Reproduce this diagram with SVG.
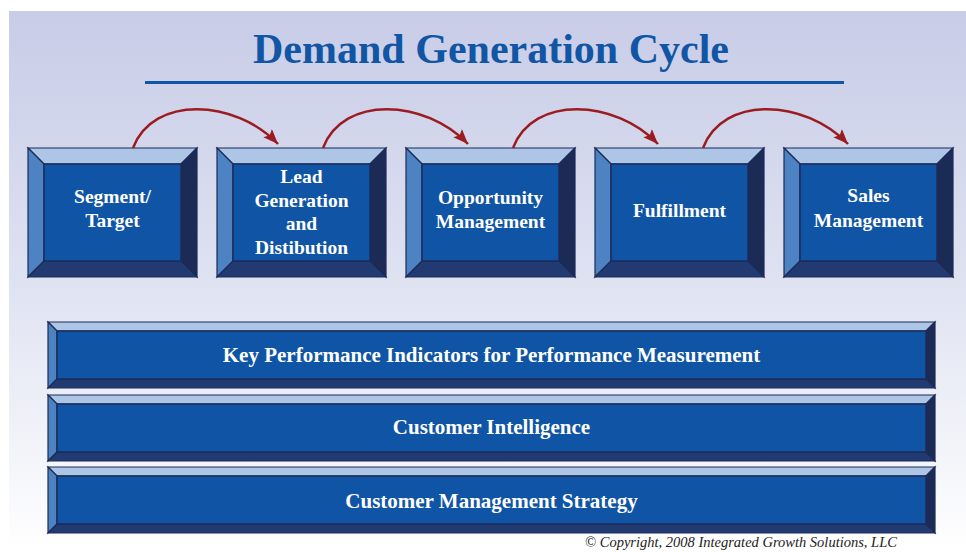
<svg xmlns="http://www.w3.org/2000/svg" width="966" height="552" viewBox="0 0 966 552">
<defs>
<linearGradient id="bg" x1="0" y1="0" x2="0" y2="1">
<stop offset="0" stop-color="#c8cce7"/>
<stop offset="0.5" stop-color="#dfe2f1"/>
<stop offset="1" stop-color="#ffffff"/>
</linearGradient>
<marker id="ah" markerUnits="userSpaceOnUse" markerWidth="16" markerHeight="12" refX="15" refY="6" orient="auto">
<path d="M0,0 L15,6 L0,12 L3,6 z" fill="#9b1c20"/>
</marker>
<style>
.top{fill:#adc6e6;stroke:#1c2b58;stroke-width:1.2}
.left{fill:#4d83c3;stroke:#1c2b58;stroke-width:1.2}
.right{fill:#1c2a56;stroke:#1c2b58;stroke-width:1.2}
.bot{fill:#213a72;stroke:#1c2b58;stroke-width:1.2}
.face{fill:#1054a5;stroke:#1c2b58;stroke-width:1.5}
.lbl{font-family:"Liberation Serif","Times New Roman",serif;font-weight:bold;fill:#ffffff;text-anchor:middle;font-size:19.5px}
.bar{font-size:21px}
.arc{fill:none;stroke:#9b1c20;stroke-width:2.5;marker-end:url(#ah)}
</style>
</defs>
<rect x="0" y="0" width="966" height="552" fill="#ffffff"/>
<rect x="9" y="11" width="957" height="541" fill="url(#bg)"/>

<g id="title">
<text x="491" y="63" font-family="Liberation Serif,'Times New Roman',serif" font-weight="bold" font-size="42" fill="#1155a5" text-anchor="middle">Demand Generation Cycle</text>
<rect x="145" y="81" width="699" height="3" fill="#1155a5"/>
</g>

<g id="n1" transform="translate(28,148)">
<polygon class="top" points="0,0 169,0 153,16 16,16"/>
<polygon class="left" points="0,0 16,16 16,113 0,129"/>
<polygon class="right" points="169,0 169,129 153,113 153,16"/>
<polygon class="bot" points="0,129 16,113 153,113 169,129"/>
<rect class="face" x="16" y="16" width="137" height="97"/>
<text class="lbl" x="84.5" y="55">Segment/</text>
<text class="lbl" x="84.5" y="79">Target</text>
</g>

<g id="n2" transform="translate(217,148)">
<polygon class="top" points="0,0 169,0 153,16 16,16"/>
<polygon class="left" points="0,0 16,16 16,113 0,129"/>
<polygon class="right" points="169,0 169,129 153,113 153,16"/>
<polygon class="bot" points="0,129 16,113 153,113 169,129"/>
<rect class="face" x="16" y="16" width="137" height="97"/>
<text class="lbl" x="84.5" y="35">Lead</text>
<text class="lbl" x="84.5" y="59">Generation</text>
<text class="lbl" x="84.5" y="82">and</text>
<text class="lbl" x="84.5" y="106">Distibution</text>
</g>

<g id="n3" transform="translate(406,148)">
<polygon class="top" points="0,0 169,0 153,16 16,16"/>
<polygon class="left" points="0,0 16,16 16,113 0,129"/>
<polygon class="right" points="169,0 169,129 153,113 153,16"/>
<polygon class="bot" points="0,129 16,113 153,113 169,129"/>
<rect class="face" x="16" y="16" width="137" height="97"/>
<text class="lbl" x="84.5" y="56">Opportunity</text>
<text class="lbl" x="84.5" y="80">Management</text>
</g>

<g id="n4" transform="translate(595,148)">
<polygon class="top" points="0,0 169,0 153,16 16,16"/>
<polygon class="left" points="0,0 16,16 16,113 0,129"/>
<polygon class="right" points="169,0 169,129 153,113 153,16"/>
<polygon class="bot" points="0,129 16,113 153,113 169,129"/>
<rect class="face" x="16" y="16" width="137" height="97"/>
<text class="lbl" x="84.5" y="69">Fulfillment</text>
</g>

<g id="n5" transform="translate(784,148)">
<polygon class="top" points="0,0 169,0 153,16 16,16"/>
<polygon class="left" points="0,0 16,16 16,113 0,129"/>
<polygon class="right" points="169,0 169,129 153,113 153,16"/>
<polygon class="bot" points="0,129 16,113 153,113 169,129"/>
<rect class="face" x="16" y="16" width="137" height="97"/>
<text class="lbl" x="84.5" y="54">Sales</text>
<text class="lbl" x="84.5" y="79">Management</text>
</g>

<g id="connectors">
<path class="arc" d="M133,148 C153,95 235,99 278,144"/>
<path class="arc" d="M323,148 C343,95 425,99 468,144"/>
<path class="arc" d="M513,148 C533,95 615,99 658,144"/>
<path class="arc" d="M703,148 C723,95 805,99 848,144"/>
</g>

<g id="bar1" transform="translate(48,322)">
<polygon class="top" points="0,0 887,0 878,9 9,9"/>
<polygon class="left" points="0,0 9,9 9,57 0,66"/>
<polygon class="right" points="887,0 887,66 878,57 878,9"/>
<polygon class="bot" points="0,66 9,57 878,57 887,66"/>
<rect class="face" x="9" y="9" width="869" height="48"/>
<text class="lbl bar" x="443.5" y="40">Key Performance Indicators for Performance Measurement</text>
</g>

<g id="bar2" transform="translate(48,395)">
<polygon class="top" points="0,0 887,0 878,9 9,9"/>
<polygon class="left" points="0,0 9,9 9,57 0,66"/>
<polygon class="right" points="887,0 887,66 878,57 878,9"/>
<polygon class="bot" points="0,66 9,57 878,57 887,66"/>
<rect class="face" x="9" y="9" width="869" height="48"/>
<text class="lbl bar" x="443.5" y="39">Customer Intelligence</text>
</g>

<g id="bar3" transform="translate(48,467)">
<polygon class="top" points="0,0 887,0 878,9 9,9"/>
<polygon class="left" points="0,0 9,9 9,57 0,66"/>
<polygon class="right" points="887,0 887,66 878,57 878,9"/>
<polygon class="bot" points="0,66 9,57 878,57 887,66"/>
<rect class="face" x="9" y="9" width="869" height="48"/>
<text class="lbl bar" x="443.5" y="41">Customer Management Strategy</text>
</g>

<text id="copyright" x="741" y="547" font-family="Liberation Serif,'Times New Roman',serif" font-style="italic" font-size="14.5" fill="#222222" text-anchor="middle">© Copyright, 2008 Integrated Growth Solutions, LLC</text>
</svg>
